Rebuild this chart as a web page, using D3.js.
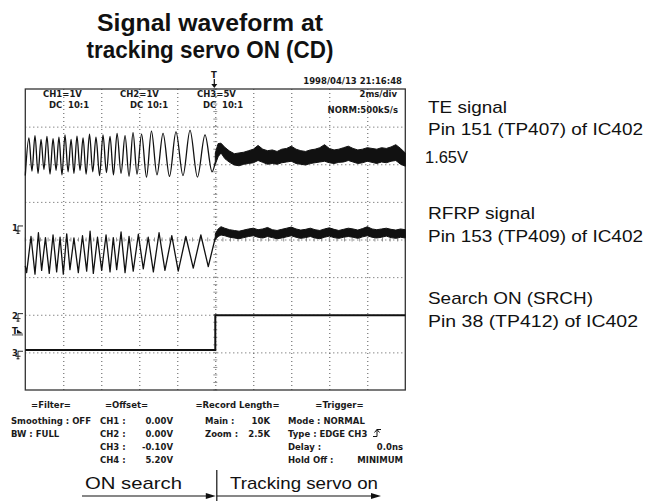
<!DOCTYPE html>
<html><head><meta charset="utf-8">
<script src="https://cdn.jsdelivr.net/npm/d3@7"></script>
<style>
body{margin:0;background:#fff;}
svg{display:block;}
.scope{font-family:"DejaVu Sans",sans-serif;font-weight:bold;font-size:8.5px;fill:#1a1a1a;}
.ann{font-family:"Liberation Sans",Arial,sans-serif;fill:#111;}
</style></head><body>
<svg id="c" width="649" height="501"></svg>
<script>
// ---------------- DATA ----------------
// time in ms (2 ms/div, trigger at 0), level in screen divisions (0 = centre line)
const timeDomain = [-10, 10];
const levelDomain = [-4, 4];
const gridTimes = [-8, -6, -4, -2, 0, 2, 4, 6, 8];
const gridLevels = [-3, -2, -1, 0, 1, 2, 3];

// TE signal (CH1) before trigger: peaks / troughs
const tePreT = [-10, -9.81, -9.65, -9.49, -9.33, -9.17, -9.02, -8.86, -8.70, -8.54, -8.38, -8.23, -8.07, -7.91, -7.75, -7.59, -7.44, -7.28, -7.12, -6.96, -6.80, -6.62, -6.45, -6.28, -6.09, -5.91, -5.73, -5.54, -5.36, -5.17, -4.96, -4.75, -4.54, -4.33, -4.12, -3.88, -3.62, -3.36, -3.07, -2.75, -2.41, -2.07, -1.70, -1.33, -0.94, -0.54, -0.17, 0];
const tePreV = [1.70, 2.70, 1.82, 2.76, 1.76, 2.66, 1.86, 2.74, 1.74, 2.68, 1.84, 2.72, 1.72, 2.78, 1.80, 2.66, 1.76, 2.75, 1.84, 2.70, 1.74, 2.80, 1.80, 2.72, 1.70, 2.78, 1.78, 2.74, 1.72, 2.82, 1.76, 2.76, 1.68, 2.84, 1.74, 2.80, 1.66, 2.88, 1.72, 2.82, 1.68, 2.86, 1.70, 2.90, 1.66, 2.78, 1.80, 2.05];

// after trigger the traces are noisy bands: upper / lower envelope
const bandT = [0, 0.15, 0.3, 0.5, 0.75, 1, 1.25, 1.5, 1.75, 2, 2.25, 2.5, 2.75, 3, 3.25, 3.5, 3.75, 4, 4.25, 4.5, 4.75, 5, 5.25, 5.5, 5.75, 6, 6.25, 6.5, 6.75, 7, 7.25, 7.5, 7.75, 8, 8.25, 8.5, 8.75, 9, 9.25, 9.5, 9.75, 10];
const teHi = [2.30, 2.55, 2.56, 2.45, 2.35, 2.28, 2.30, 2.32, 2.36, 2.40, 2.50, 2.40, 2.36, 2.38, 2.34, 2.40, 2.42, 2.48, 2.40, 2.36, 2.34, 2.38, 2.40, 2.44, 2.52, 2.42, 2.38, 2.40, 2.44, 2.48, 2.42, 2.38, 2.40, 2.44, 2.42, 2.40, 2.44, 2.42, 2.46, 2.52, 2.42, 2.30];
const teLo = [2.00, 2.20, 2.30, 2.15, 2.05, 1.98, 1.96, 2.00, 2.02, 2.04, 2.10, 2.05, 2.00, 2.02, 2.00, 2.04, 2.06, 2.08, 2.02, 2.00, 1.98, 2.02, 2.04, 2.06, 2.08, 2.04, 2.02, 2.05, 2.06, 2.10, 2.06, 2.02, 2.04, 2.08, 2.05, 2.02, 2.06, 2.04, 2.08, 2.10, 2.00, 1.95];

// RFRP signal before trigger
const rfPreT = [-10, -9.93, -9.70, -9.49, -9.31, -9.14, -8.94, -8.74, -8.54, -8.35, -8.17, -8.00, -7.82, -7.65, -7.44, -7.21, -6.99, -6.77, -6.59, -6.42, -6.20, -5.98, -5.75, -5.54, -5.37, -5.19, -4.96, -4.75, -4.54, -4.32, -4.05, -3.79, -3.53, -3.26, -2.96, -2.65, -2.29, -1.95, -1.55, -1.16, -0.76, -0.37, 0];
const rfPreV = [-0.70, -0.88, 0.08, -0.92, 0.18, -0.82, 0.05, -0.90, 0.12, -0.86, 0.06, -0.92, 0.15, -0.80, 0.04, -0.88, 0.10, -0.84, 0.22, -0.90, 0.06, -0.82, 0.12, -0.86, 0.05, -0.80, 0.20, -0.88, 0.08, -0.84, 0.14, -0.78, 0.06, -0.86, 0.18, -0.82, 0.10, -0.84, 0.08, -0.76, 0.12, -0.72, 0.05];
const rfHi = [0.15, 0.28, 0.34, 0.30, 0.26, 0.24, 0.22, 0.25, 0.28, 0.30, 0.26, 0.28, 0.32, 0.26, 0.24, 0.27, 0.30, 0.33, 0.28, 0.25, 0.27, 0.30, 0.26, 0.24, 0.28, 0.31, 0.27, 0.24, 0.27, 0.30, 0.28, 0.25, 0.29, 0.34, 0.28, 0.26, 0.28, 0.30, 0.27, 0.25, 0.28, 0.26];
const rfLo = [0.00, 0.08, 0.12, 0.10, 0.06, 0.04, 0.02, 0.05, 0.08, 0.10, 0.06, 0.04, 0.08, 0.05, 0.02, 0.04, 0.07, 0.10, 0.06, 0.03, 0.05, 0.08, 0.04, 0.02, 0.06, 0.09, 0.05, 0.03, 0.06, 0.08, 0.06, 0.03, 0.07, 0.10, 0.06, 0.04, 0.06, 0.09, 0.05, 0.03, 0.06, 0.04];

// Search ON (SRCH) step
const srchT = [-10, 0, 0, 10];
const srchV = [-2.94, -2.94, -2.01, -2.01];

// channel ground markers (level in divisions)
const markerNames = ["1", "2", "T", "3"];
const markerLevels = [0.28, -2.05, -2.47, -3.05];

// texts
const titleLines = ["Signal waveform at", "tracking servo ON (CD)"];
const dateText = "1998/04/13 21:16:48";
const chNames = ["CH1=1V", "CH2=1V", "CH3=5V"];
const chCoupling = ["DC", "DC", "DC"];
const chProbe = ["10:1", "10:1", "10:1"];
const timebase = "2ms/div";
const sampling = "NORM:500kS/s";
const panelHeaders = ["=Filter=", "=Offset=", "=Record Length=", "=Trigger="];
const filterLines = ["Smoothing : OFF", "BW : FULL"];
const offsetNames = ["CH1 :", "CH2 :", "CH3 :", "CH4 :"];
const offsetValues = ["0.00V", "0.00V", "-0.10V", "5.20V"];
const recordNames = ["Main :", "Zoom :"];
const recordValues = ["10K", "2.5K"];
const triggerNames = ["Mode : NORMAL", "Type : EDGE CH3", "Delay :", "Hold Off :"];
const triggerValues = ["", "", "0.0ns", "MINIMUM"];
const signalNames = ["TE signal", "RFRP signal", "Search ON (SRCH)"];
const signalPins = ["Pin 151 (TP407) of IC402", "Pin 153 (TP409) of IC402", "Pin 38 (TP412) of IC402"];
const teRefLabel = "1.65V";
const phaseLabels = ["ON search", "Tracking servo on"];

// ---------------- DRAW ----------------
const svg = d3.select("#c");
const L = 25.3, R = 405.3, T = 89, B = 390;
const x = d3.scaleLinear().domain(timeDomain).range([L, R]);
const y = d3.scaleLinear().domain(levelDomain).range([B, T]);

// title
const titleW = [226, 247];
titleLines.forEach((t, i) => {
  svg.append("text").attr("class", "ann").attr("font-weight", "bold").attr("font-size", 23)
    .attr("x", 210 - titleW[i] / 2).attr("y", 31 + i * 27)
    .attr("textLength", titleW[i]).attr("lengthAdjust", "spacingAndGlyphs").text(t);
});

// grid via axes
const grid = svg.append("g");
grid.append("g").attr("transform", `translate(0,${B})`)
  .call(d3.axisBottom(x).tickValues(gridTimes).tickSize(-(B - T)).tickFormat(""))
  .call(g => g.select(".domain").remove())
  .call(g => g.selectAll("line").attr("stroke", "#555").attr("stroke-dasharray", "1,3"));
grid.append("g").attr("transform", `translate(${L},0)`)
  .call(d3.axisLeft(y).tickValues(gridLevels).tickSize(-(R - L)).tickFormat(""))
  .call(g => g.select(".domain").remove())
  .call(g => g.selectAll("line").attr("stroke", "#555").attr("stroke-dasharray", "1,3"));
// minor ticks on centre axes
const minorLev = d3.range(-4, 4.01, 0.2);
grid.selectAll(".mtv").data(minorLev).join("line")
  .attr("x1", x(0) - 2).attr("x2", x(0) + 2)
  .attr("y1", d => y(d)).attr("y2", d => y(d))
  .attr("stroke", "#777").attr("stroke-width", 0.8);
const minorT = d3.range(-10, 10.01, 0.4);
grid.selectAll(".mth").data(minorT).join("line")
  .attr("x1", d => x(d)).attr("x2", d => x(d))
  .attr("y1", y(0) - 2).attr("y2", y(0) + 2)
  .attr("stroke", "#777").attr("stroke-width", 0.8);

// frame
svg.append("rect").attr("x", L).attr("y", T).attr("width", R - L).attr("height", B - T)
  .attr("fill", "none").attr("stroke", "#333").attr("stroke-width", 1.3);

// header texts
const chX = [43, 120, 197], dcX = [49, 130, 203], prX = [68, 147, 222];
const st = (xx, yy, t, anchor) => svg.append("text").attr("class", "scope")
  .attr("x", xx).attr("y", yy).attr("text-anchor", anchor || "start").text(t);
chNames.forEach((t, i) => {
  st(chX[i], 97, t);
  st(dcX[i], 108, chCoupling[i]);
  st(prX[i], 108, chProbe[i]);
});
st(397, 97, timebase, "end");
st(398, 113, sampling, "end");
st(402, 84, dateText, "end");
// trigger position marker
svg.append("text").attr("class", "scope").attr("font-size", 6).attr("x", x(0) - 1.5).attr("y", 78)
  .attr("text-anchor", "middle").text("T");
svg.append("line").attr("x1", x(0) - 1).attr("x2", x(0) - 1).attr("y1", 79).attr("y2", 85)
  .attr("stroke", "#111").attr("stroke-width", 1.2);
svg.append("path").attr("d", `M${x(0) - 4},84 L${x(0) + 2},84 L${x(0) - 1},88 Z`).attr("fill", "#111");

// traces
const line = d3.line().x(d => x(d[0])).y(d => y(d[1]));
const tePre = tePreT.map((t, i) => [t, tePreV[i]]);
svg.append("path").datum(tePre).attr("d", line.curve(d3.curveMonotoneX))
  .attr("fill", "none").attr("stroke", "#111").attr("stroke-width", 1.3).attr("stroke-linejoin", "round");
const rfPre = rfPreT.map((t, i) => [t, rfPreV[i]]);
svg.append("path").datum(rfPre).attr("d", d3.line().x(d => x(d[0])).y(d => y(d[1])))
  .attr("fill", "none").attr("stroke", "#111").attr("stroke-width", 1.3).attr("stroke-linejoin", "round");

const area = d3.area().x(d => x(d[0])).y0(d => y(d[1])).y1(d => y(d[2]));
const teBand = bandT.map((t, i) => [t, teLo[i], teHi[i]]);
const rfBand = bandT.map((t, i) => [t, rfLo[i], rfHi[i]]);
[teBand, rfBand].forEach(b => {
  svg.append("path").datum(b).attr("d", area)
    .attr("fill", "#111").attr("stroke", "#111").attr("stroke-width", 1).attr("stroke-linejoin", "round");
});
const srch = srchT.map((t, i) => [t, srchV[i]]);
svg.append("path").datum(srch).attr("d", d3.line().x(d => x(d[0])).y(d => y(d[1])))
  .attr("fill", "none").attr("stroke", "#111").attr("stroke-width", 2);

// channel markers on the left
markerNames.forEach((m, i) => {
  const yy = y(markerLevels[i]);
  svg.append("text").attr("class", "scope").attr("font-size", 6.5).attr("x", 12).attr("y", yy + 2).text(m);
  if (m === "T") {
    svg.append("path").attr("d", `M17,${yy - 3} L23,${yy + 1} L17,${yy + 1} Z`).attr("fill", "#111");
    svg.append("line").attr("x1", 12).attr("x2", 23).attr("y1", yy + 2.5).attr("y2", yy + 2.5).attr("stroke", "#111").attr("stroke-width", 0.8);
  } else {
    svg.append("path").attr("d", `M23,${yy - 3} H18 V${yy + 2} M15.5,${yy + 2} H20.5 M18,${yy + 2} V${yy + 5} M16.5,${yy + 4.5} H19.5`)
      .attr("fill", "none").attr("stroke", "#111").attr("stroke-width", 0.9);
  }
});

// bottom panel
const rowY = [423.5, 436.5, 449.5, 462.5];
const hdrX = [51, 126.5, 237.5, 339.5];
panelHeaders.forEach((h, i) => st(hdrX[i], 408, h, "middle"));
filterLines.forEach((t, i) => st(11, rowY[i], t));
offsetNames.forEach((t, i) => { st(100, rowY[i], t); st(173, rowY[i], offsetValues[i], "end"); });
recordNames.forEach((t, i) => { st(205, rowY[i], t); st(270, rowY[i], recordValues[i], "end"); });
triggerNames.forEach((t, i) => { st(288, rowY[i], t); if (triggerValues[i]) st(403, rowY[i], triggerValues[i], "end"); });
// rising edge symbol
svg.append("path").attr("d", `M373,${rowY[1]} H377 V${rowY[1] - 7} H381 M374.5,${rowY[1] - 4} L377,${rowY[1] - 7} L379.5,${rowY[1] - 4}`)
  .attr("fill", "none").attr("stroke", "#111").attr("stroke-width", 1);

// right annotations
const annW = [[79, 215], [107, 215], [165, 210]];
const annY = [[112.5, 135], [219, 242], [304, 327]];
signalNames.forEach((n, i) => {
  svg.append("text").attr("class", "ann").attr("font-size", 17).attr("x", 428).attr("y", annY[i][0])
    .attr("textLength", annW[i][0]).attr("lengthAdjust", "spacingAndGlyphs").text(n);
  svg.append("text").attr("class", "ann").attr("font-size", 17).attr("x", 428).attr("y", annY[i][1])
    .attr("textLength", annW[i][1]).attr("lengthAdjust", "spacingAndGlyphs").text(signalPins[i]);
});
svg.append("text").attr("class", "ann").attr("font-size", 16).attr("x", 425).attr("y", 163)
  .attr("textLength", 43).attr("lengthAdjust", "spacingAndGlyphs").text(teRefLabel);

// phase arrows at bottom
const ay = 496;
const xd = x(0) + 1.5;
svg.append("line").attr("x1", xd).attr("x2", xd).attr("y1", 470).attr("y2", 501).attr("stroke", "#111").attr("stroke-width", 1.2);
svg.append("line").attr("x1", 82).attr("x2", xd - 8).attr("y1", ay).attr("y2", ay).attr("stroke", "#111").attr("stroke-width", 1.2);
svg.append("path").attr("d", `M${xd - 1},${ay} L${xd - 11},${ay - 3} L${xd - 11},${ay + 3} Z`).attr("fill", "#111");
svg.append("line").attr("x1", xd).attr("x2", 372).attr("y1", ay).attr("y2", ay).attr("stroke", "#111").attr("stroke-width", 1.2);
svg.append("path").attr("d", `M381,${ay} L371,${ay - 3} L371,${ay + 3} Z`).attr("fill", "#111");
svg.append("text").attr("class", "ann").attr("font-size", 17).attr("x", 85).attr("y", 489)
  .attr("textLength", 97).attr("lengthAdjust", "spacingAndGlyphs").text(phaseLabels[0]);
svg.append("text").attr("class", "ann").attr("font-size", 17).attr("x", 230).attr("y", 489)
  .attr("textLength", 148).attr("lengthAdjust", "spacingAndGlyphs").text(phaseLabels[1]);
</script></body></html>
